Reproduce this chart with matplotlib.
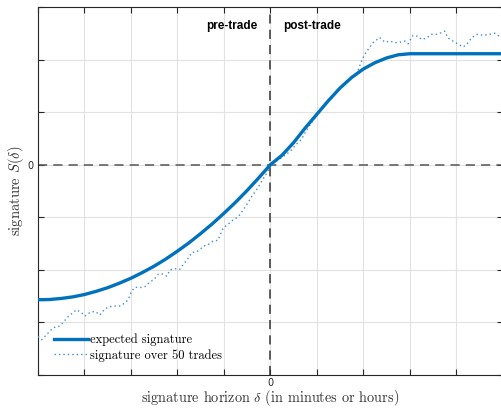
import matplotlib
matplotlib.use("Agg")
import matplotlib.pyplot as plt

# expected signature (solid line)
exp_x = [-5.0, -4.75, -4.5, -4.25, -4.0, -3.75, -3.5, -3.25, -3.0, -2.75,
         -2.5, -2.25, -2.0, -1.75, -1.5, -1.25, -1.0, -0.75, -0.5, -0.25,
         0.0, 0.25, 0.5, 0.75, 1.0, 1.25, 1.5, 1.75, 2.0, 2.25,
         2.5, 2.75, 3.0, 5.0]
exp_y = [-2.57, -2.565, -2.545, -2.515, -2.47, -2.41, -2.34, -2.255, -2.16, -2.05,
         -1.93, -1.795, -1.645, -1.485, -1.31, -1.125, -0.925, -0.715, -0.49, -0.25,
         0.0, 0.18, 0.42, 0.70, 0.96, 1.22, 1.46, 1.66, 1.82, 1.94,
         2.03, 2.09, 2.11, 2.11]

# realised signature over 50 trades (dotted line)
obs_x = [-5.00, -4.92, -4.78, -4.67, -4.56, -4.49, -4.35, -4.24, -4.17, -4.06,
         -3.99, -3.88, -3.77, -3.67, -3.56, -3.45, -3.34, -3.24, -3.13, -3.06,
         -2.99, -2.91, -2.81, -2.70, -2.59, -2.50, -2.41, -2.31, -2.23, -2.16,
         -2.05, -1.95, -1.86, -1.80, -1.69, -1.59, -1.50, -1.44, -1.34, -1.23,
         -1.13, -1.02, -0.91, -0.80, -0.69, -0.60, -0.51, -0.40, -0.30, -0.19,
         -0.08, 0.02, 0.15, 0.30, 0.42, 0.55, 0.67, 0.74, 0.90, 1.05,
         1.21, 1.32, 1.42, 1.53, 1.64, 1.75, 1.85, 1.96, 2.03, 2.10,
         2.21, 2.35, 2.46, 2.57, 2.68, 2.78, 2.89, 2.96, 3.07, 3.18,
         3.25, 3.36, 3.47, 3.57, 3.68, 3.75, 3.82, 3.93, 4.04, 4.15,
         4.23, 4.33, 4.43, 4.58, 4.72, 4.83, 4.94, 5.00]
obs_y = [-3.27, -3.33, -3.20, -3.10, -3.08, -3.03, -2.89, -2.81, -2.76, -2.82,
         -2.88, -2.81, -2.79, -2.86, -2.74, -2.70, -2.69, -2.69, -2.63, -2.57,
         -2.41, -2.33, -2.34, -2.32, -2.23, -2.18, -2.08, -2.08, -2.12, -2.00,
         -1.98, -1.99, -1.88, -1.82, -1.67, -1.66, -1.60, -1.55, -1.52, -1.45,
         -1.44, -1.21, -1.13, -1.05, -0.99, -0.88, -0.76, -0.60, -0.48, -0.32,
         -0.16, 0.0, 0.08, 0.17, 0.25, 0.38, 0.48, 0.60, 0.82, 1.00,
         1.21, 1.27, 1.40, 1.49, 1.59, 1.65, 1.71, 1.97, 2.10, 2.19,
         2.32, 2.42, 2.33, 2.35, 2.32, 2.33, 2.35, 2.30, 2.46, 2.44,
         2.38, 2.41, 2.48, 2.48, 2.51, 2.54, 2.41, 2.35, 2.29, 2.24,
         2.30, 2.41, 2.48, 2.46, 2.48, 2.50, 2.43, 2.45]

x_ticks = [-5, -4, -3, -2, -1, 0, 1, 2, 3, 4, 5]
y_ticks = [-4, -3, -2, -1, 0, 1, 2, 3]

plt.rcParams['mathtext.fontset'] = 'cm'
plt.rcParams['axes.unicode_minus'] = False

fig = plt.figure(figsize=(5.02, 4.08), dpi=100)
ax = fig.add_axes([0.0757, 0.081, 0.926, 0.902])

blue = '#0072BD'
ax.plot(exp_x, exp_y, '-', color=blue, lw=2.4, label='expected signature', zorder=4)
ax.plot(obs_x, obs_y, color='#3d8fd0', lw=1.0, ls=(0, (1, 2.2)),
        label='signature over 50 trades', zorder=3)

ax.axhline(0, color='#555555', lw=1.1, ls=(0, (6, 4)), zorder=2)
ax.axvline(0, color='#333333', lw=1.1, ls=(0, (6, 4)), zorder=2)

ax.set_xlim(-5, 5)
ax.set_ylim(-4, 3)
ax.set_xticks(x_ticks)
ax.set_yticks(y_ticks)
ax.set_xticklabels(['0' if t == 0 else '' for t in x_ticks])
ax.set_yticklabels(['0' if t == 0 else '' for t in y_ticks])
ax.tick_params(direction='in', length=4, width=0.8, top=True, right=True,
               colors='#262626', labelsize=7)
ax.tick_params(axis='x', pad=2.5)
ax.grid(True, color='#e2e2e2', lw=0.8)
ax.set_axisbelow(True)
for s in ax.spines.values():
    s.set_color('#262626')
    s.set_linewidth(0.8)

ax.text(-0.27, 2.63, 'pre-trade', ha='right', va='center', fontsize=8.5,
        fontweight='bold', family='Liberation Sans')
ax.text(0.27, 2.63, 'post-trade', ha='left', va='center', fontsize=8.5,
        fontweight='bold', family='Liberation Sans')

ax.set_xlabel(r'signature horizon $\delta$ (in minutes or hours)', family='cmr10',
              fontsize=10.3, color='#333333', labelpad=0)
ax.set_ylabel(r'signature $S(\delta)$', family='cmr10', fontsize=10.5,
              color='#333333', labelpad=1)

leg = ax.legend(loc='lower left', frameon=False, prop={'family': 'cmr10', 'size': 9},
                handlelength=2.7, handletextpad=0.2, labelspacing=0.25,
                bbox_to_anchor=(0.01, 0.005))

fig.savefig('out.png', dpi=100)
